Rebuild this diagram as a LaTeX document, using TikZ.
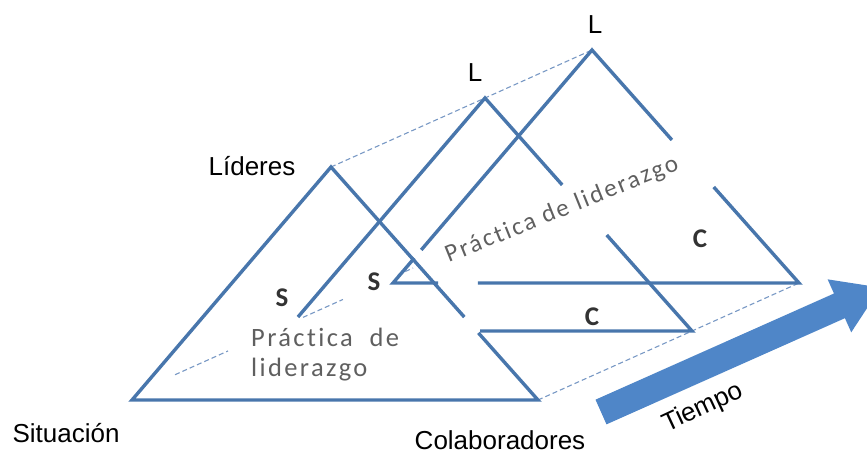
\documentclass[tikz,border=0pt]{standalone}
\usepackage{fontspec}
\setmainfont{Liberation Sans}
\newfontfamily\califont[LetterSpace=9,Ligatures=NoCommon]{Carlito}
\newfontfamily\labfont{Carlito}
\usetikzlibrary{positioning,calc}
\definecolor{lineblue}{RGB}{72,118,172}
\definecolor{dashblue}{RGB}{120,152,196}
\definecolor{arrowblue}{RGB}{79,134,200}
\definecolor{textgray}{RGB}{95,95,95}
\tikzset{%
side/.style={draw=lineblue,line width=3.4pt},
trace/.style={draw=dashblue,line width=1.1pt,dash pattern=on 5pt off 3pt},
corner/.style={font=\fontsize{26}{30}\selectfont,inner sep=1pt},
tag/.style={font=\labfont\bfseries\fontsize{27}{30}\selectfont,text=black!80,inner sep=1pt},
practice/.style={font=\califont\fontsize{25}{30}\selectfont,text=textgray,inner sep=1pt}
}
\begin{document}
\begin{tikzpicture}[x=1pt,y=-1pt]
    \useasboundingbox (0,0) rectangle (867,459);
    \clip (0,0) rectangle (867,459);

    \coordinate (a1) at (331,167);
    \coordinate (l1) at (132,400);
    \coordinate (r1) at (538,400);
    \coordinate (a2) at (485,98);
    \coordinate (l2) at (286,331);
    \coordinate (r2) at (692,331);
    \coordinate (a3) at (592,50);
    \coordinate (l3) at (393,283);
    \coordinate (r3) at (799,283);
    \coordinate (d1) at (132,394);
    \coordinate (d3) at (393,277);

    \path[trace] (a1) -- (a2) -- (a3);
    \path[trace] (r1) -- (r2) -- (r3);
    \path[trace] ($(d1)!0.165!(d3)$) -- ($(d1)!0.368!(d3)$);
    \path[trace] ($(d1)!0.655!(d3)$) -- ($(d1)!0.808!(d3)$);
    \path[trace] ($(d1)!1.019!(d3)$) -- ($(d1)!1.077!(d3)$);

    \path[side] ($(a1)!0.712!(r1)$) -- (r1) -- (l1) -- (a1) -- ($(a1)!0.644!(r1)$);

    \path[side] ($(a2)!0.94!(l2)$) -- (a2) -- ($(a2)!0.373!(r2)$);
    \path[side] ($(a2)!0.588!(r2)$) -- (r2) -- ($(l2)!0.478!(r2)$);

    \path[side] ($(l3)!0.142!(a3)$) -- (a3) -- ($(a3)!0.386!(r3)$);
    \path[side] ($(a3)!0.588!(r3)$) -- (r3) -- ($(l3)!0.209!(r3)$);
    \path[side] ($(l3)!0.111!(r3)$) -- (l3) -- ($(l3)!0.107!(a3)$);

    \begin{scope}[shift={(601,412)},rotate=24]
      \fill[arrowblue] (0,-13.5) -- (261,-13.5) -- (261,-29) -- (306,0)
        -- (261,29) -- (261,13.5) -- (0,13.5) -- cycle;
    \end{scope}

    \node[corner] (lead1) at (475,73) {L};
    \node[corner] (lead2) at (595,25) {L};
    \node[corner] (lideres) at (252,166) {Líderes};
    \node[corner] (situacion) at (66,433) {Situación};
    \node[corner] (colab) at (500,440) {Colaboradores};
    \node[corner,rotate=25] (tiempo) at (703,408) {Tiempo};

    \node[tag] (sit1) at (282,298) {S};
    \node[tag] (sit2) at (374,282) {S};
    \node[tag] (col1) at (592,317) {C};
    \node[tag] (col2) at (700,239) {C};

    \node[practice,rotate=22] (prac2) at (562,210) {Práctica de liderazgo};
    \node[practice,font=\califont\fontsize{26.5}{30}\selectfont,anchor=west,align=left] (prac1) at (250,355) {Práctica\ \ de\\liderazgo};
  \end{tikzpicture}
\end{document}
